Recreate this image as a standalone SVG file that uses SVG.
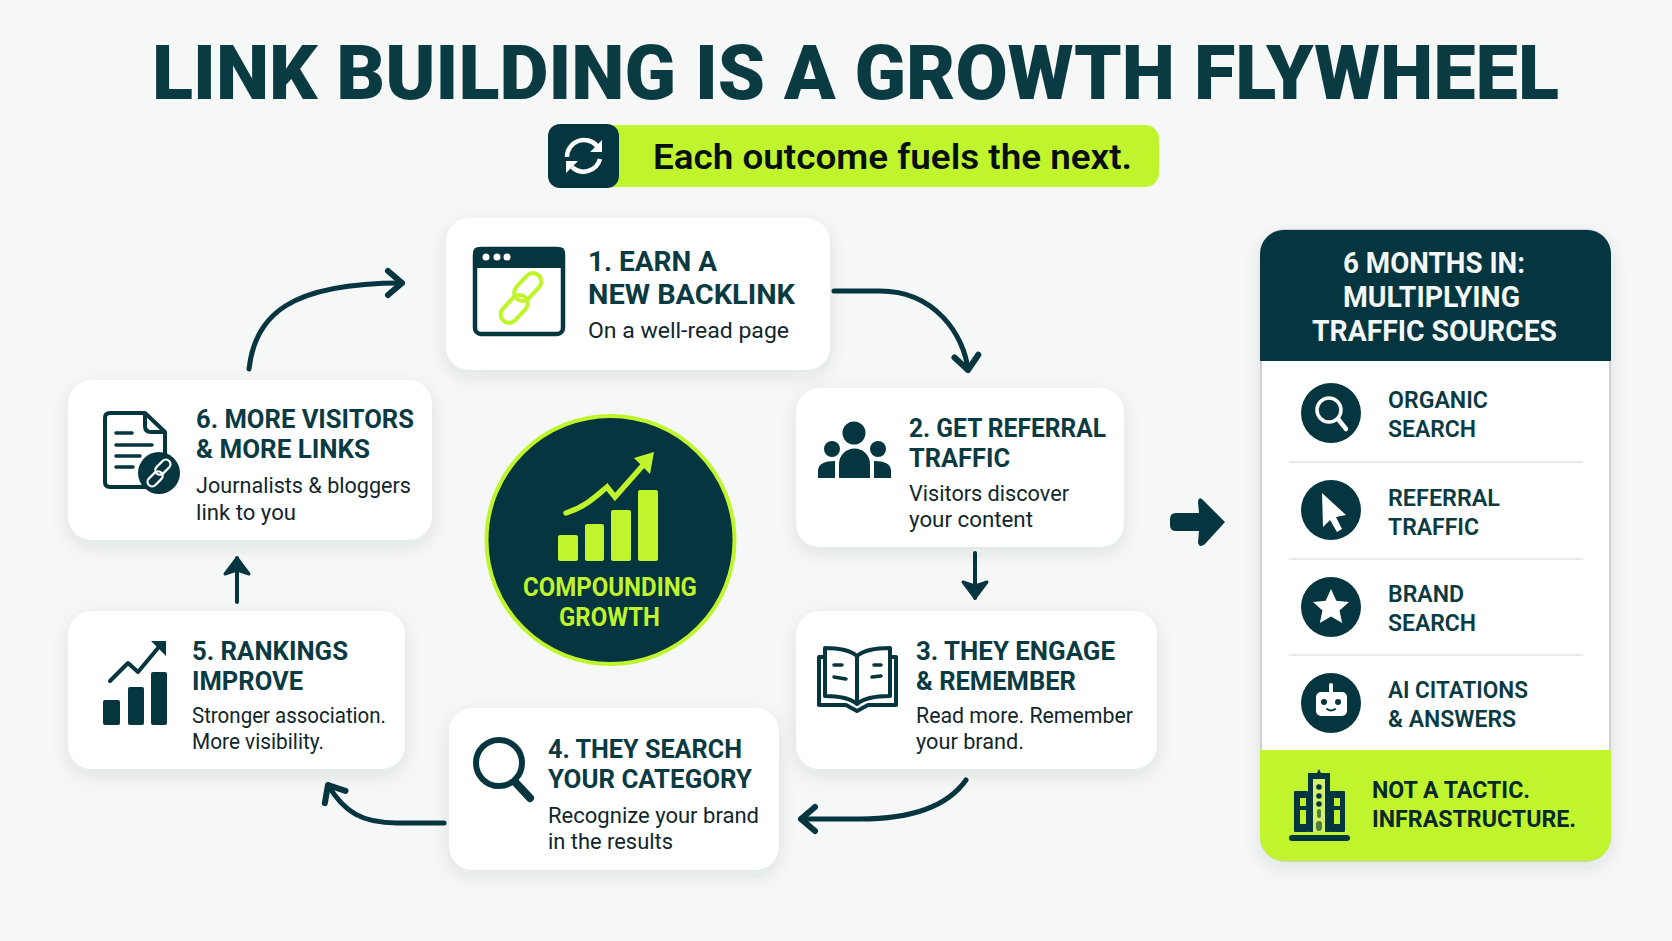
<svg xmlns="http://www.w3.org/2000/svg" width="1672" height="941" viewBox="0 0 1672 941">
<style>
text{font-family:Roboto,"Liberation Sans",sans-serif}
.title{font-size:76px;font-weight:900;fill:#0a3a42}
.pilltext{font-size:35px;font-weight:600;fill:#050f10}
.h{font-size:25.500px;font-weight:700;fill:#0a3a42}
.h1{font-size:28px}
.s{font-size:22px;font-weight:400;fill:#10262b}
.ph{font-size:29px;font-weight:700;fill:#f4f7f7}
.pi{font-size:24px;font-weight:600;fill:#0a3a42}
.pf{font-size:24px;font-weight:700;fill:#07282d}
.cg{font-size:25px;font-weight:700;fill:#c0f52d}
.card{fill:#fff;filter:url(#sh)}
.dk{fill:#05353e}
.lm{fill:#c0f52d}
.wt{fill:#fff}
.conn{fill:none;stroke:#05353e;stroke-width:5;stroke-linecap:round;marker-end:url(#chev)}
.conn2{fill:none;stroke:#05353e;stroke-width:4;stroke-linecap:round;marker-end:url(#stealth)}
.ol{fill:none;stroke:#05353e;stroke-linecap:round;stroke-linejoin:round}
.sep{stroke:#e8eaec;stroke-width:2}
</style>
<defs>
<filter id="sh" x="-15%" y="-15%" width="130%" height="140%"><feDropShadow dx="0" dy="6" stdDeviation="9" flood-color="#20343a" flood-opacity="0.1"/></filter>
<marker id="chev" markerUnits="userSpaceOnUse" markerWidth="40" markerHeight="40" refX="28" refY="20" orient="auto"><path d="M14 8 L28 20 L14 32" fill="none" stroke="#05353e" stroke-width="6" stroke-linecap="round" stroke-linejoin="round"/></marker>
<marker id="stealth" markerUnits="userSpaceOnUse" markerWidth="40" markerHeight="40" refX="30" refY="20" orient="auto"><path d="M14 8 L30 20 L14 32 L18 20 Z" fill="#05353e" stroke="#05353e" stroke-width="3" stroke-linejoin="round"/></marker>
<g id="chain" fill="none" stroke-width="5"><rect x="-34" y="-7" width="38" height="20" rx="10"/><rect x="-4" y="-13" width="38" height="20" rx="10"/></g>
</defs>
<rect width="1672" height="941" fill="#f6f7f7"/>
<text class="title" x="152" y="99" textLength="1407" lengthAdjust="spacingAndGlyphs">LINK BUILDING IS A GROWTH FLYWHEEL</text>
<g id="tagline">
<rect x="590" y="125" width="569" height="62" rx="14" class="lm"/>
<rect x="548" y="124" width="71" height="64" rx="12" class="dk"/>
<g fill="none" stroke="#fff" stroke-width="4.500"><path d="M597 146 A17 17 0 0 0 567 157"/><path d="M600 159 A17 17 0 0 1 572 167"/></g>
<path d="M602 140 V152 H590 Z M566 173 V161 H578 Z" class="wt"/>
<text class="pilltext" x="653" y="169" textLength="479" lengthAdjust="spacingAndGlyphs">Each outcome fuels the next.</text>
</g>
<g id="connectors">
<path class="conn" d="M249 369 C255 315 290 283 402 283"/>
<path class="conn" d="M834 291 H880 C935 291 964 335 968 370"/>
<path class="conn2" d="M975 553 V598"/>
<path class="conn" d="M966 780 C945 810 905 819 860 819 H801"/>
<path class="conn" d="M444 823 H397 C362 823 344 812 328 785"/>
<path class="conn2" d="M237 602 V558"/>
<path d="M1170 519 Q1170 513 1176 513 H1199 L1198 502 Q1199 495 1204 501 L1225 522 L1205 544 Q1199 549 1198 542 L1199 531 H1176 Q1170 531 1170 525 Z" class="dk"/>
</g>
<g id="node-1">
<rect x="446" y="218" width="384" height="152" rx="24" class="card"/>
<rect x="475" y="249" width="88" height="85" rx="6" fill="none" stroke="#05353e" stroke-width="4.500"/>
<path d="M473 268 V253 Q473 247 479 247 H559 Q565 247 565 253 V268 Z" class="dk"/>
<g class="wt"><circle cx="486" cy="257" r="3.500"/><circle cx="497" cy="257" r="3.500"/><circle cx="507" cy="257" r="3.500"/></g>
<use href="#chain" transform="translate(521 298) rotate(-47) scale(0.84)" stroke="#c0f52d"/>
<text class="h h1" x="588" y="271" textLength="129" lengthAdjust="spacingAndGlyphs">1. EARN A</text>
<text class="h h1" x="588" y="304" textLength="207" lengthAdjust="spacingAndGlyphs">NEW BACKLINK</text>
<text class="s" x="588" y="338" textLength="201" lengthAdjust="spacingAndGlyphs">On a well-read page</text>
</g>
<g id="node-2">
<rect x="796" y="388" width="328" height="159" rx="24" class="card"/>
<g class="dk"><circle cx="854" cy="433" r="11.500"/><path d="M839 478 V464 A15.500 15.500 0 0 1 870 464 V478 Z"/><circle cx="832" cy="449" r="8"/><circle cx="878" cy="449" r="8"/><path d="M818 478 V470 Q819 461 835 461 V478 Z"/><path d="M891 478 V470 Q890 461 874 461 V478 Z"/></g>
<text class="h" x="909" y="437" textLength="197" lengthAdjust="spacingAndGlyphs">2. GET REFERRAL</text>
<text class="h" x="909" y="467" textLength="101" lengthAdjust="spacingAndGlyphs">TRAFFIC</text>
<text class="s" x="909" y="501" textLength="160" lengthAdjust="spacingAndGlyphs">Visitors discover</text>
<text class="s" x="909" y="527" textLength="124" lengthAdjust="spacingAndGlyphs">your content</text>
</g>
<g id="node-3">
<rect x="796" y="611" width="361" height="158" rx="24" class="card"/>
<g class="ol" stroke-width="4"><path d="M857 656 C850 650 838 648 825 648 V696 C838 696 850 698 857 704 C864 698 876 696 890 696 V648 C876 648 864 650 857 656 V704"/><path d="M825 657 H819 V705 H846 L857 711 L868 705 H896 V657 H890"/></g>
<g class="ol" stroke-width="3.500"><path d="M834 665 H842 M834 677 L846 679 M874 665 H881 M872 677 L881 676"/></g>
<text class="h" x="916" y="660" textLength="199" lengthAdjust="spacingAndGlyphs">3. THEY ENGAGE</text>
<text class="h" x="916" y="690" textLength="160" lengthAdjust="spacingAndGlyphs">&amp; REMEMBER</text>
<text class="s" x="916" y="723" textLength="217" lengthAdjust="spacingAndGlyphs">Read more. Remember</text>
<text class="s" x="916" y="749" textLength="108" lengthAdjust="spacingAndGlyphs">your brand.</text>
</g>
<g id="node-4">
<rect x="449" y="708" width="330" height="162" rx="24" class="card"/>
<circle cx="499" cy="763" r="23" class="ol" stroke-width="6"/>
<path d="M516 783 L530 798" class="ol" stroke-width="8"/>
<text class="h" x="548" y="758" textLength="194" lengthAdjust="spacingAndGlyphs">4. THEY SEARCH</text>
<text class="h" x="548" y="788" textLength="204" lengthAdjust="spacingAndGlyphs">YOUR CATEGORY</text>
<text class="s" x="548" y="823" textLength="211" lengthAdjust="spacingAndGlyphs">Recognize your brand</text>
<text class="s" x="548" y="849" textLength="125" lengthAdjust="spacingAndGlyphs">in the results</text>
</g>
<g id="node-5">
<rect x="68" y="611" width="337" height="158" rx="24" class="card"/>
<g class="dk"><rect x="103" y="700" width="17" height="25" rx="2"/><rect x="128" y="687" width="16" height="38" rx="2"/><rect x="151" y="672" width="16" height="53" rx="2"/><path d="M151 641 H166 V656 Z"/></g>
<path d="M110 681 L128 663 L138 672 L158 648" class="ol" stroke-width="4"/>
<text class="h" x="192" y="660" textLength="156" lengthAdjust="spacingAndGlyphs">5. RANKINGS</text>
<text class="h" x="192" y="690" textLength="111" lengthAdjust="spacingAndGlyphs">IMPROVE</text>
<text class="s" x="192" y="723" textLength="194" lengthAdjust="spacingAndGlyphs">Stronger association.</text>
<text class="s" x="192" y="749" textLength="132" lengthAdjust="spacingAndGlyphs">More visibility.</text>
</g>
<g id="node-6">
<rect x="68" y="380" width="364" height="160" rx="24" class="card"/>
<path d="M145 413 H110 Q105 413 105 418 V482 Q105 487 110 487 H160 Q165 487 165 482 V432 Z M145 413 V426 Q145 432 151 432 H165" class="ol" stroke-width="4"/>
<path d="M116 433 H132 M116 445 H152 M116 456 H140 M116 467 H133" class="ol" stroke-width="3.500"/>
<circle cx="159" cy="473" r="21" class="dk"/>
<use href="#chain" transform="translate(159 473) rotate(-45) scale(0.46)" stroke="#fff"/>
<text class="h" x="196" y="428" textLength="218" lengthAdjust="spacingAndGlyphs">6. MORE VISITORS</text>
<text class="h" x="196" y="458" textLength="174" lengthAdjust="spacingAndGlyphs">&amp; MORE LINKS</text>
<text class="s" x="196" y="493" textLength="215" lengthAdjust="spacingAndGlyphs">Journalists &amp; bloggers</text>
<text class="s" x="196" y="520" textLength="100" lengthAdjust="spacingAndGlyphs">link to you</text>
</g>
<g id="hub">
<circle cx="610.500" cy="540" r="124" class="dk" stroke="#c0f52d" stroke-width="4"/>
<g class="lm"><rect x="558" y="535" width="20" height="26" rx="2"/><rect x="585" y="524" width="19" height="37" rx="2"/><rect x="611" y="510" width="20" height="51" rx="2"/><rect x="638" y="490" width="20" height="71" rx="2"/><path d="M654 452 L634 458 L650 474 Z"/></g>
<path d="M566 513 C585 507 595 497 607 487 L615 497 L645 463" fill="none" stroke="#c0f52d" stroke-width="5.500" stroke-linecap="round" stroke-linejoin="miter"/>
<text class="cg" x="523" y="596" textLength="174" lengthAdjust="spacingAndGlyphs">COMPOUNDING</text>
<text class="cg" x="559" y="626" textLength="101" lengthAdjust="spacingAndGlyphs">GROWTH</text>
</g>
<g id="panel">
<rect x="1261" y="230" width="349" height="631" rx="24" fill="#fff" stroke="#c9d0d6" stroke-width="2" filter="url(#sh)"/>
<path d="M1260 361 V254 A24 24 0 0 1 1284 230 H1587 A24 24 0 0 1 1611 254 V361 Z" class="dk"/>
<path d="M1260 750 H1611 V837 A24 24 0 0 1 1587 861 H1284 A24 24 0 0 1 1260 837 Z" class="lm"/>
<text class="ph" x="1343" y="273" textLength="182" lengthAdjust="spacingAndGlyphs">6 MONTHS IN:</text>
<text class="ph" x="1343" y="307" textLength="177" lengthAdjust="spacingAndGlyphs">MULTIPLYING</text>
<text class="ph" x="1312" y="341" textLength="245" lengthAdjust="spacingAndGlyphs">TRAFFIC SOURCES</text>
<line class="sep" x1="1289" y1="462" x2="1583" y2="462"/>
<line class="sep" x1="1289" y1="559" x2="1583" y2="559"/>
<line class="sep" x1="1289" y1="655" x2="1583" y2="655"/>
<g id="source-organic">
<circle cx="1331" cy="413" r="30" class="dk"/>
<circle cx="1329" cy="410" r="12" fill="none" stroke="#fff" stroke-width="3.500"/>
<path d="M1338 419 L1346 429" stroke="#fff" stroke-width="4.500" stroke-linecap="round"/>
<text class="pi" x="1388" y="408" textLength="100" lengthAdjust="spacingAndGlyphs">ORGANIC</text>
<text class="pi" x="1388" y="437" textLength="88" lengthAdjust="spacingAndGlyphs">SEARCH</text>
</g>
<g id="source-referral">
<circle cx="1331" cy="510" r="30" class="dk"/>
<path d="M1322 493 L1346 515 L1336 517 L1342 529 L1337 532 L1330 520 L1323 527 Z" class="wt"/>
<text class="pi" x="1388" y="506" textLength="112" lengthAdjust="spacingAndGlyphs">REFERRAL</text>
<text class="pi" x="1388" y="535" textLength="91" lengthAdjust="spacingAndGlyphs">TRAFFIC</text>
</g>
<g id="source-brand">
<circle cx="1331" cy="607" r="30" class="dk"/>
<path d="M1331 589 L1336.300 600.700 L1349 602 L1339.500 610.500 L1342.200 623 L1331 616.500 L1319.800 623 L1322.500 610.500 L1313 602 L1325.700 600.700 Z" class="wt"/>
<text class="pi" x="1388" y="602" textLength="76" lengthAdjust="spacingAndGlyphs">BRAND</text>
<text class="pi" x="1388" y="631" textLength="88" lengthAdjust="spacingAndGlyphs">SEARCH</text>
</g>
<g id="source-ai">
<circle cx="1331" cy="703" r="30" class="dk"/>
<path d="M1331 685 V692" stroke="#fff" stroke-width="4" stroke-linecap="round"/>
<rect x="1316" y="692" width="31" height="24" rx="5" class="wt"/>
<circle cx="1324" cy="702" r="3" class="dk"/><circle cx="1338" cy="702" r="3" class="dk"/>
<path d="M1327 709 Q1331 712 1335 709" fill="none" stroke="#05353e" stroke-width="2" stroke-linecap="round"/>
<text class="pi" x="1388" y="698" textLength="140" lengthAdjust="spacingAndGlyphs">AI CITATIONS</text>
<text class="pi" x="1388" y="727" textLength="128" lengthAdjust="spacingAndGlyphs">&amp; ANSWERS</text>
</g>
<g id="footer">
<g class="dk"><path d="M1308 832 V773 H1317 L1319 769 L1321 773 H1330 V832 Z"/><rect x="1294" y="791" width="14" height="41" rx="1"/><rect x="1330" y="791" width="15" height="41" rx="1"/><rect x="1289" y="835" width="61" height="6" rx="3"/></g>
<rect x="1313" y="779" width="12" height="53" fill="#d2f06a"/>
<g class="dk"><circle cx="1319" cy="787" r="2.800"/><circle cx="1319" cy="796" r="2.800"/><circle cx="1319" cy="804" r="2.800"/></g>
<g fill="#4f7f3c"><rect x="1317" y="809" width="4" height="9" rx="2"/><rect x="1316" y="821" width="6" height="10" rx="3"/></g>
<g class="lm"><rect x="1300" y="798" width="6" height="8"/><rect x="1300" y="810" width="6" height="14"/><rect x="1334" y="798" width="6" height="8"/><rect x="1334" y="810" width="6" height="14"/></g>
<text class="pf" x="1372" y="798" textLength="158" lengthAdjust="spacingAndGlyphs">NOT A TACTIC.</text>
<text class="pf" x="1372" y="827" textLength="204" lengthAdjust="spacingAndGlyphs">INFRASTRUCTURE.</text>
</g>
</g>
</svg>
